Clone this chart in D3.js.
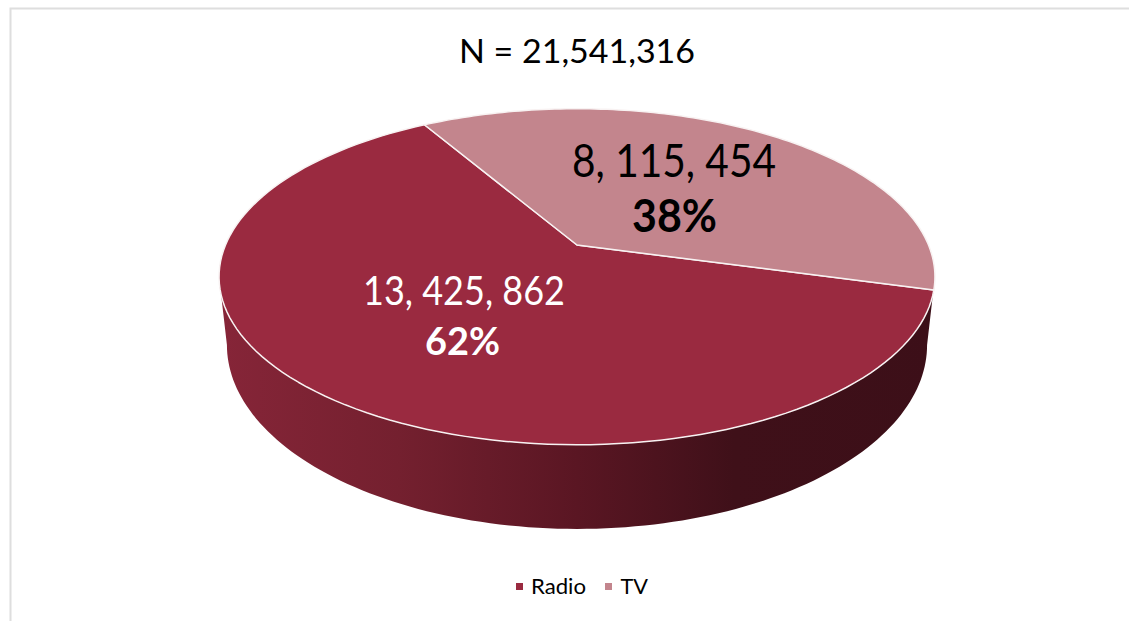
<!DOCTYPE html>
<html><head><meta charset="utf-8">
<script src="https://cdn.jsdelivr.net/npm/d3@7"></script>
<style>html,body{margin:0;padding:0;background:#fff;overflow:hidden}svg{display:block}text{font-family:Lato,"Open Sans",sans-serif}</style>
</head><body><div id="c"></div>
<script>
const categories = ["Radio", "TV"];
const values = [13425862, 8115454];
const valueLabels = ["13, 425, 862", "8, 115, 454"];
const percentLabels = ["62%", "38%"];
const colors = ["#9a2a40", "#c3858d"];
const title = "N = 21,541,316";

const W = 1129, H = 621;
const svg = d3.select("#c").append("svg").attr("width", W).attr("height", H);

// frame: left and top only, the picture is cropped on the other sides
svg.append("path").attr("d", `M10.5,${H} V8.5 H${W}`).attr("fill", "none").attr("stroke", "#dedede").attr("stroke-width", 2);

// perspective projection of the unit disc
const cx = 577, cy = 245, A = 351.5, B = 162, k = 0.189;
const proj = (a, sx = 1, sy = 1, dy = 0) => {
  const u = Math.sin(a), v = -Math.cos(a), s = 1 / (1 - k * v);
  return [cx + A * u * s * sx, cy + B * v * s * sy + dy];
};
const line = d3.line();
const rad = d => d * Math.PI / 180;
const startDeg = 105.3;
const pie = d3.pie().sort(null).startAngle(rad(startDeg)).endAngle(rad(startDeg + 360));
const arcs = pie(values);
const sample = (a0, a1) => d3.range(0, 121).map(i => a0 + (a1 - a0) * i / 120);

// side wall
const grad = svg.append("defs").append("linearGradient").attr("id", "side")
  .attr("gradientUnits", "userSpaceOnUse").attr("x1", 219).attr("x2", 935).attr("y1", 0).attr("y2", 0);
[[0, "#862538"], [0.25, "#74202f"], [0.5, "#5a1623"], [0.72, "#3f1019"], [1, "#3c0f18"]]
  .forEach(([o, c]) => grad.append("stop").attr("offset", o).attr("stop-color", c));
const wideA = rad(100.9), wideB = rad(259.1);
const frontTop = sample(wideA, wideB).map(a => proj(a));
const frontBot = sample(wideB, wideA).map(a => proj(a, 0.978, 1.095, 65.2));
svg.append("path").attr("d", line(frontTop.concat(frontBot)) + "Z").attr("fill", "url(#side)");

// top slices
svg.selectAll("path.slice").data(arcs).join("path").attr("class", "slice")
  .attr("d", d => line([[cx, cy]].concat(sample(d.startAngle, d.endAngle).map(a => proj(a)))) + "Z")
  .attr("fill", (d, i) => colors[i]).attr("stroke", "#f8f2f2").attr("stroke-width", 1.5).attr("stroke-linejoin", "round");

// fitted text, the installed humanist face is wider than the original
const put = (t, x, y, size, width, col, anchor, bold) => svg.append("text")
  .attr("x", x).attr("y", y).attr("text-anchor", anchor).attr("font-size", size)
  .attr("font-weight", bold ? 700 : 400).attr("fill", col)
  .attr("textLength", width).attr("lengthAdjust", "spacingAndGlyphs").text(t);

put(title, 577, 63, 33, 236, "#000", "middle");

put(valueLabels[0], 464, 305, 40, 202, "#fff", "middle");
put(percentLabels[0], 462.5, 355, 39, 75, "#fff", "middle", true);
put(valueLabels[1], 674, 177, 46, 204, "#000", "middle");
put(percentLabels[1], 674.5, 232, 46, 85, "#000", "middle", true);

// legend
const legendX = [516, 605], legendTextX = [531, 620.5], legendW = [55, 27.5];
categories.forEach((c, i) => {
  svg.append("rect").attr("x", legendX[i]).attr("y", 583).attr("width", 7).attr("height", 7).attr("fill", colors[i]);
  put(c, legendTextX[i], 594, 21, legendW[i], "#000", "start");
});
</script></body></html>
